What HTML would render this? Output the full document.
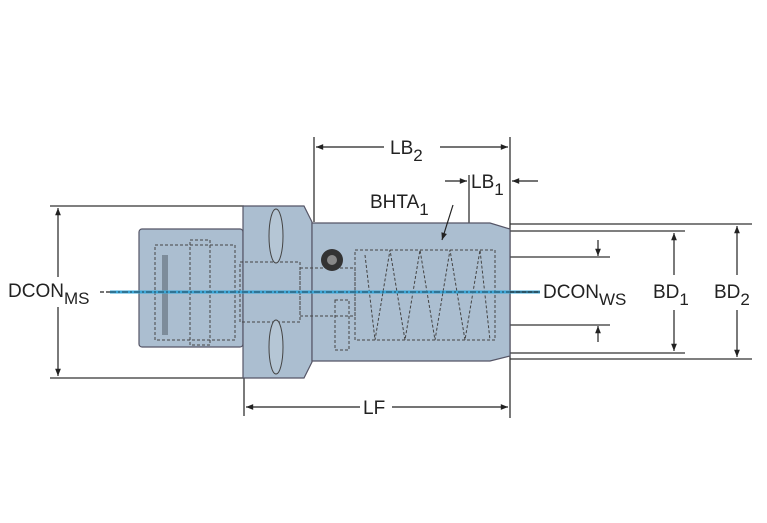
<!DOCTYPE html>
<html><head><style>html,body{margin:0;padding:0;background:#fff}svg{display:block}</style></head><body>
<svg width="767" height="523" viewBox="0 0 767 523" xmlns="http://www.w3.org/2000/svg" font-family="Liberation Sans, Arial, sans-serif">
<defs><marker id="a" viewBox="0 0 10 10" refX="10" refY="5" markerWidth="8" markerHeight="6" orient="auto-start-reverse"><path d="M0,1 L10,5 L0,9 z" fill="#222"/></marker></defs>
<g stroke="#333" stroke-width="1.3" fill="none">
<line x1="50" y1="206" x2="244" y2="206"/><line x1="50" y1="378" x2="244" y2="378"/>
<line x1="244" y1="378" x2="244" y2="416"/>
<line x1="314" y1="137" x2="314" y2="222"/>
<line x1="510" y1="137" x2="510" y2="418"/>
<line x1="469" y1="175" x2="469" y2="223"/>
<line x1="510" y1="224" x2="752" y2="224"/><line x1="510" y1="359" x2="752" y2="359"/>
<line x1="490" y1="231" x2="685" y2="231"/><line x1="490" y1="353" x2="685" y2="353"/>
<line x1="510" y1="257" x2="610" y2="257"/><line x1="510" y1="325" x2="610" y2="325"/>
</g>
<g stroke="#556" stroke-width="1.2" fill="#abbed0">
<rect x="139" y="229" width="104" height="118" rx="3"/>
<path d="M243,206 L304,206 L312,222 L312,362 L304,378 L243,378 Z"/>
<path d="M312,223 L490,223 L510,229 L510,356 L490,361 L312,361 Z"/>
</g>
<g stroke="#444" stroke-width="1" stroke-dasharray="3,2" fill="none">
<rect x="155" y="245" width="80" height="95"/>
<rect x="190" y="240" width="20" height="105"/>
<rect x="240" y="262" width="60" height="60"/>
<rect x="300" y="268" width="55" height="48"/>
<rect x="355" y="250" width="140" height="90"/>
<path d="M365,255 L375,340 L390,250 L405,340 L420,250 L435,340 L450,250 L465,340 L480,250 L490,340"/>
<rect x="335" y="300" width="14" height="50"/>
</g>
<g stroke="#444" fill="#b5c6d5" stroke-width="1">
<ellipse cx="276" cy="236" rx="7" ry="27"/><ellipse cx="276" cy="347" rx="7" ry="27"/>
</g>
<circle cx="332" cy="260" r="11" fill="#333"/><circle cx="332" cy="260" r="5" fill="#888"/>
<rect x="162" y="255" width="6" height="80" fill="#7d8c9a"/>
<line x1="110" y1="292" x2="540" y2="292" stroke="#3aa7d8" stroke-width="3"/>
<line x1="110" y1="292" x2="540" y2="292" stroke="#222" stroke-width="0.8" stroke-dasharray="6,2,2,2"/>
<g stroke="#222" stroke-width="1.2" fill="none">
<line x1="58" y1="208" x2="58" y2="277" marker-start="url(#a)"/><line x1="58" y1="307" x2="58" y2="376" marker-end="url(#a)"/>
<line x1="316" y1="147" x2="384" y2="147" marker-start="url(#a)"/><line x1="440" y1="147" x2="508" y2="147" marker-end="url(#a)"/>
<line x1="445" y1="181" x2="467" y2="181" marker-end="url(#a)"/><line x1="538" y1="181" x2="512" y2="181" marker-end="url(#a)"/>
<line x1="246" y1="407" x2="360" y2="407" marker-start="url(#a)"/><line x1="392" y1="407" x2="508" y2="407" marker-end="url(#a)"/>
<line x1="674" y1="233" x2="674" y2="275" marker-start="url(#a)"/><line x1="674" y1="310" x2="674" y2="351" marker-end="url(#a)"/>
<line x1="737" y1="226" x2="737" y2="275" marker-start="url(#a)"/><line x1="737" y1="310" x2="737" y2="357" marker-end="url(#a)"/>
<line x1="598" y1="240" x2="598" y2="256" marker-end="url(#a)"/><line x1="598" y1="342" x2="598" y2="326" marker-end="url(#a)"/>
<line x1="453" y1="205" x2="442" y2="240" marker-end="url(#a)"/>
<line x1="100" y1="292" x2="110" y2="292" stroke-dasharray="4,2"/><line x1="510" y1="292" x2="538" y2="292" stroke-dasharray="4,2"/>
</g>
<g fill="#222" font-size="19">
<text x="8" y="297">DCON<tspan font-size="17" dy="7">MS</tspan></text>
<text x="390" y="154">LB<tspan font-size="17" dy="7">2</tspan></text>
<text x="471" y="188">LB<tspan font-size="17" dy="7">1</tspan></text>
<text x="370" y="208">BHTA<tspan font-size="17" dy="7">1</tspan></text>
<text x="543" y="298">DCON<tspan font-size="17" dy="7">WS</tspan></text>
<text x="653" y="298">BD<tspan font-size="17" dy="7">1</tspan></text>
<text x="714" y="298">BD<tspan font-size="17" dy="7">2</tspan></text>
<text x="363" y="414">LF</text>
</g>
</svg>
</body></html>
